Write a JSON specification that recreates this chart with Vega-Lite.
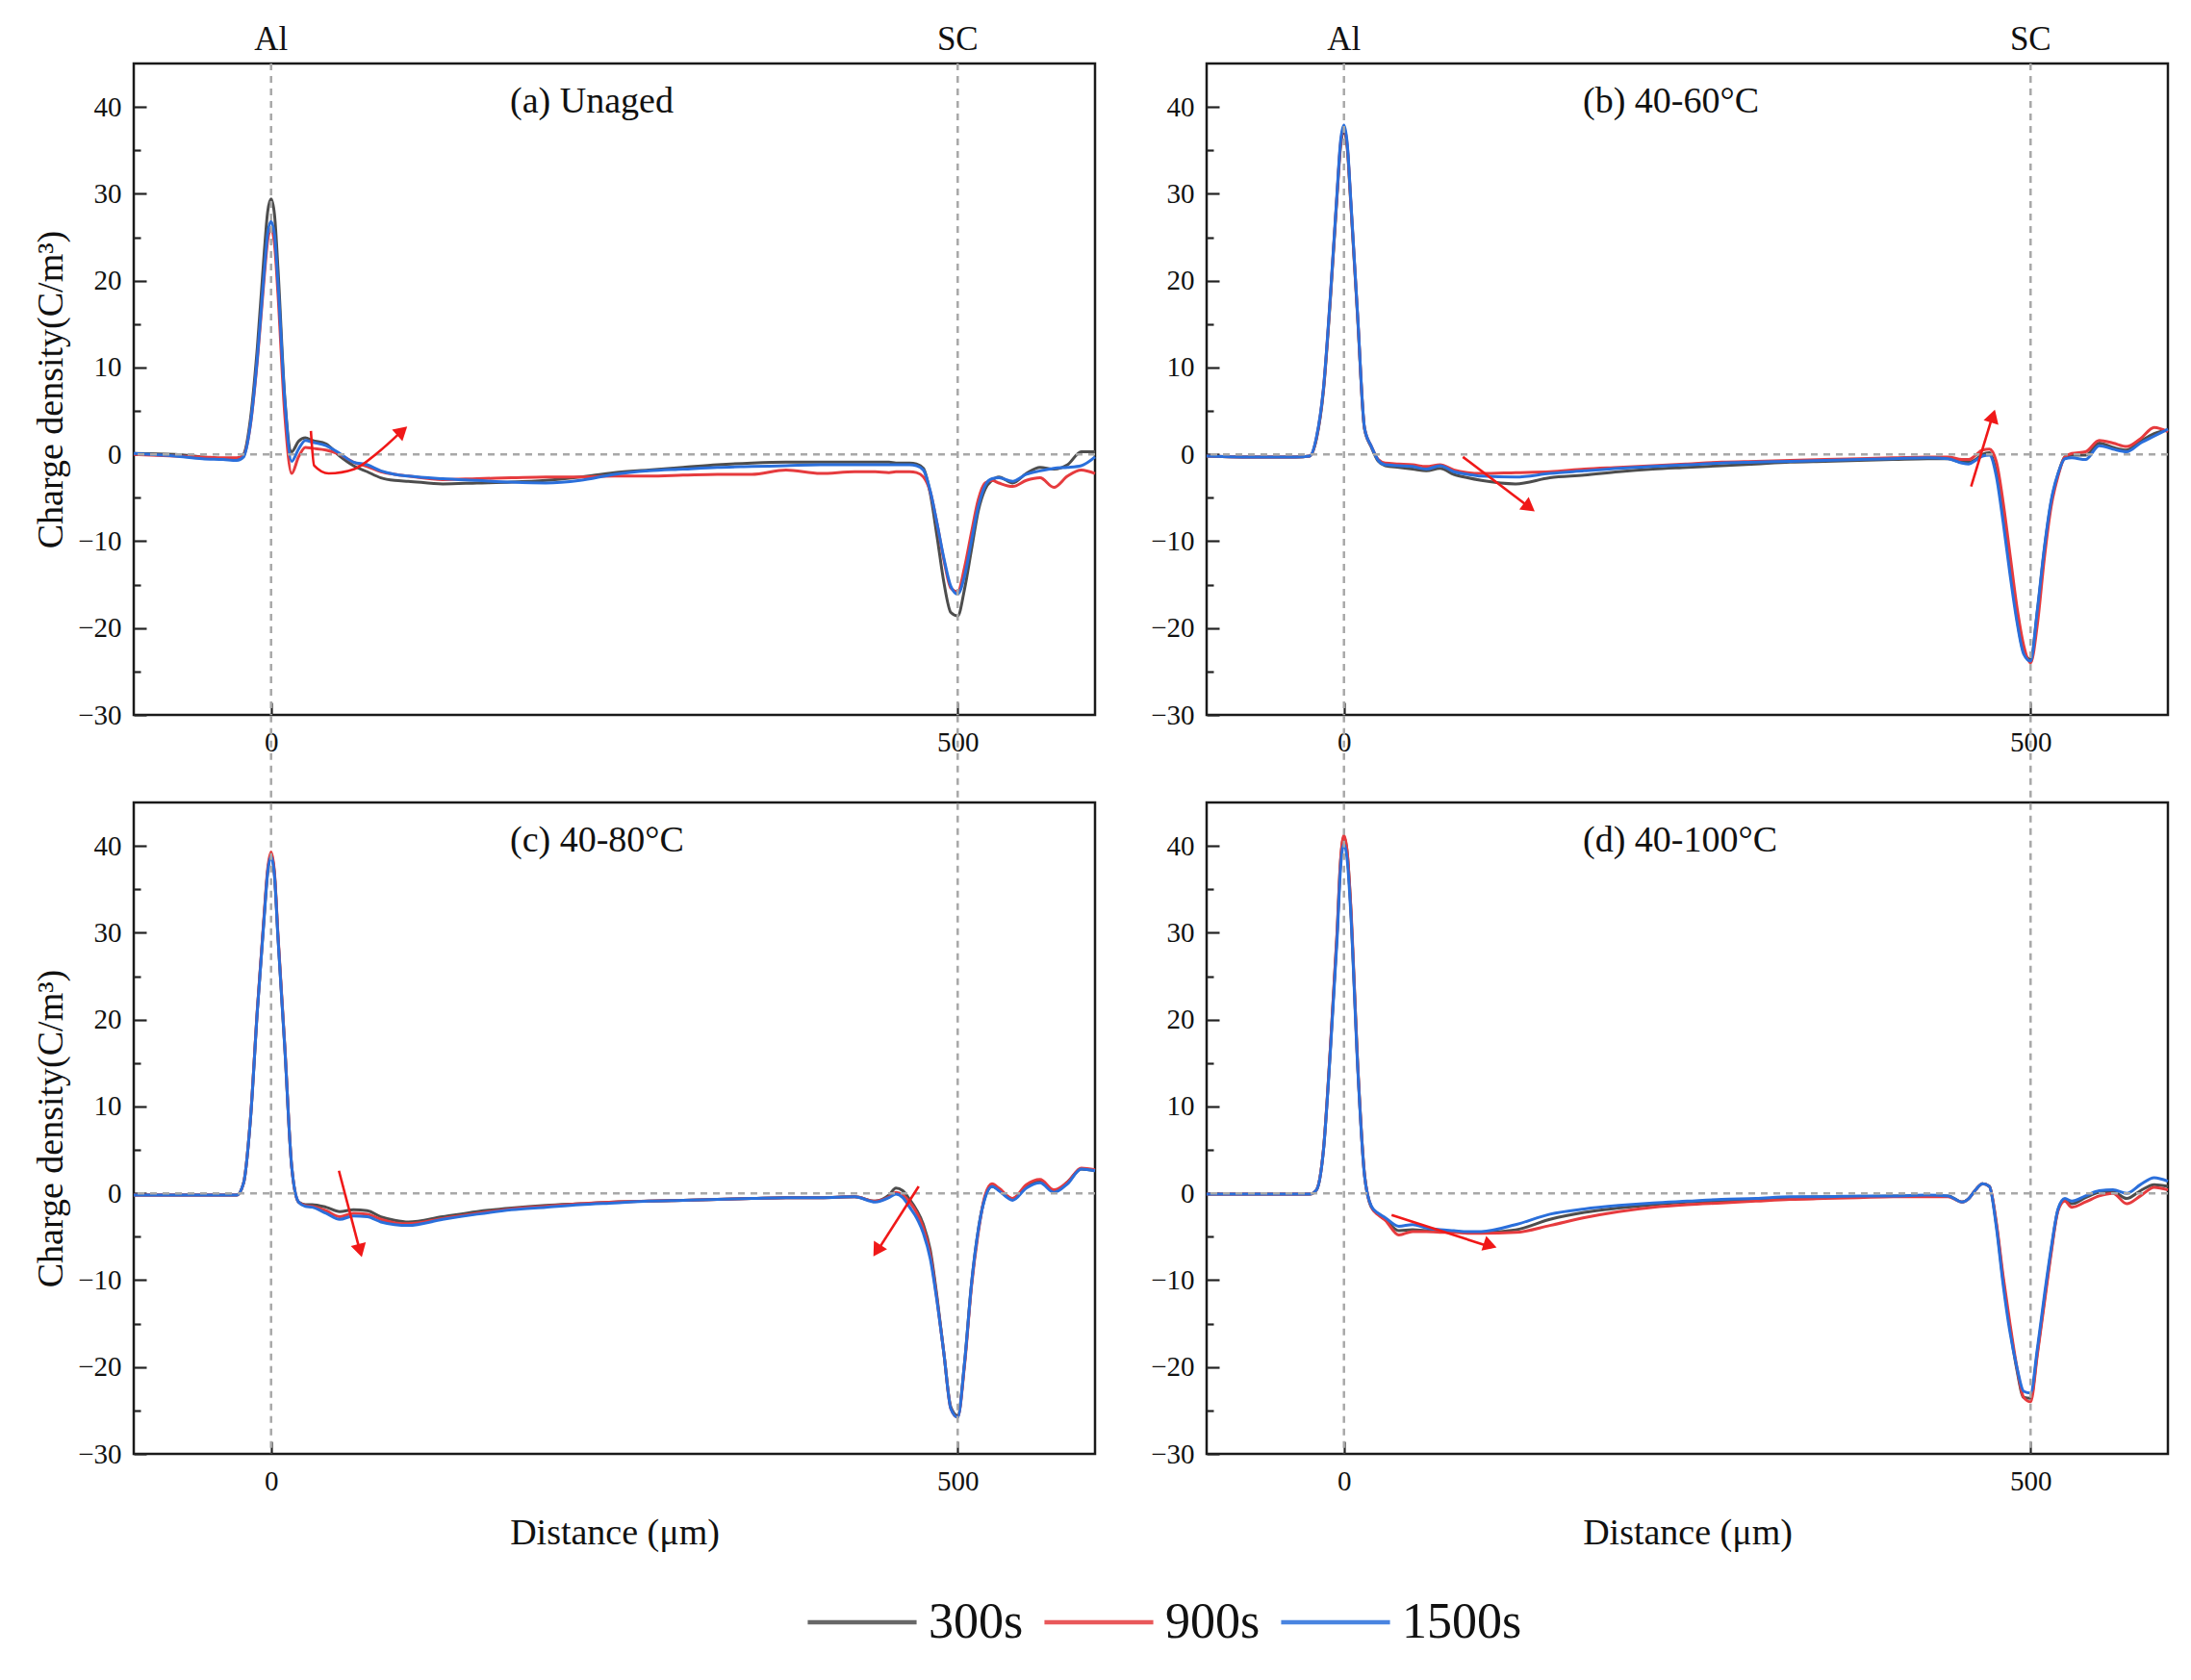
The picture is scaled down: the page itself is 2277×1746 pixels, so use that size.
{
  "$schema": "https://vega.github.io/schema/vega-lite/v6.json",
  "background": "white",
  "padding": {"left": 33, "top": 22, "right": 18, "bottom": 30},
  "bounds": "flush",
  "columns": 2,
  "spacing": {"row": 91, "column": 116},
  "datasets": {
    "curves": [
      {"p":"a","x":-100,"300s":0.1,"900s":0.0,"1500s":0.1},
      {"p":"a","x":-70,"300s":0.0,"900s":-0.2,"1500s":-0.2},
      {"p":"a","x":-50,"300s":-0.3,"900s":-0.3,"1500s":-0.5},
      {"p":"a","x":-35,"300s":-0.5,"900s":-0.4,"1500s":-0.6},
      {"p":"a","x":-25,"300s":-0.6,"900s":-0.4,"1500s":-0.7},
      {"p":"a","x":-20,"300s":0.0,"900s":-0.1,"1500s":-0.3},
      {"p":"a","x":-15,"300s":4.1,"900s":3.4,"1500s":3.5},
      {"p":"a","x":-10,"300s":12.3,"900s":10.8,"1500s":11.1},
      {"p":"a","x":-5,"300s":23.2,"900s":20.4,"1500s":21.0},
      {"p":"a","x":-2.5,"300s":27.9,"900s":24.6,"1500s":25.4},
      {"p":"a","x":0,"300s":29.4,"900s":26.0,"1500s":26.8},
      {"p":"a","x":2.5,"300s":27.6,"900s":24.2,"1500s":25.3},
      {"p":"a","x":5,"300s":21.5,"900s":18.5,"1500s":19.8},
      {"p":"a","x":10,"300s":6.5,"900s":4.5,"1500s":6.2},
      {"p":"a","x":15,"300s":0.3,"900s":-2.2,"1500s":-0.8},
      {"p":"a","x":20,"300s":1.5,"900s":-0.3,"1500s":0.6},
      {"p":"a","x":25,"300s":1.9,"900s":0.8,"1500s":1.6},
      {"p":"a","x":30,"300s":1.6,"900s":0.7,"1500s":1.4},
      {"p":"a","x":40,"300s":1.2,"900s":0.5,"1500s":1.0},
      {"p":"a","x":50,"300s":-0.2,"900s":0.0,"1500s":0.1},
      {"p":"a","x":60,"300s":-1.3,"900s":-0.9,"1500s":-0.9},
      {"p":"a","x":70,"300s":-2.0,"900s":-1.4,"1500s":-1.2},
      {"p":"a","x":80,"300s":-2.7,"900s":-2.0,"1500s":-1.9},
      {"p":"a","x":90,"300s":-3.0,"900s":-2.3,"1500s":-2.3},
      {"p":"a","x":100,"300s":-3.1,"900s":-2.5,"1500s":-2.5},
      {"p":"a","x":125,"300s":-3.4,"900s":-2.9,"1500s":-2.8},
      {"p":"a","x":150,"300s":-3.3,"900s":-2.8,"1500s":-3.0},
      {"p":"a","x":175,"300s":-3.2,"900s":-2.7,"1500s":-3.2},
      {"p":"a","x":200,"300s":-3.0,"900s":-2.6,"1500s":-3.3},
      {"p":"a","x":225,"300s":-2.6,"900s":-2.6,"1500s":-3.0},
      {"p":"a","x":250,"300s":-2.1,"900s":-2.5,"1500s":-2.3},
      {"p":"a","x":275,"300s":-1.8,"900s":-2.5,"1500s":-1.9},
      {"p":"a","x":300,"300s":-1.5,"900s":-2.4,"1500s":-1.7},
      {"p":"a","x":325,"300s":-1.2,"900s":-2.3,"1500s":-1.5},
      {"p":"a","x":350,"300s":-1.0,"900s":-2.3,"1500s":-1.4},
      {"p":"a","x":375,"300s":-0.9,"900s":-1.8,"1500s":-1.3},
      {"p":"a","x":400,"300s":-0.9,"900s":-2.2,"1500s":-1.2},
      {"p":"a","x":425,"300s":-0.9,"900s":-2.0,"1500s":-1.2},
      {"p":"a","x":440,"300s":-0.9,"900s":-2.0,"1500s":-1.2},
      {"p":"a","x":450,"300s":-0.9,"900s":-2.1,"1500s":-1.2},
      {"p":"a","x":455,"300s":-1.0,"900s":-2.0,"1500s":-1.2},
      {"p":"a","x":460,"300s":-1.0,"900s":-2.0,"1500s":-1.2},
      {"p":"a","x":465,"300s":-1.0,"900s":-2.0,"1500s":-1.2},
      {"p":"a","x":470,"300s":-1.1,"900s":-2.1,"1500s":-1.3},
      {"p":"a","x":475,"300s":-1.6,"900s":-2.6,"1500s":-1.8},
      {"p":"a","x":480,"300s":-4.5,"900s":-4.3,"1500s":-4.2},
      {"p":"a","x":485,"300s":-9.5,"900s":-8.0,"1500s":-8.0},
      {"p":"a","x":490,"300s":-14.8,"900s":-12.2,"1500s":-12.0},
      {"p":"a","x":495,"300s":-18.2,"900s":-15.4,"1500s":-15.2},
      {"p":"a","x":500,"300s":-18.6,"900s":-15.8,"1500s":-16.1},
      {"p":"a","x":505,"300s":-15.5,"900s":-13.0,"1500s":-14.0},
      {"p":"a","x":510,"300s":-11.0,"900s":-9.0,"1500s":-10.0},
      {"p":"a","x":515,"300s":-6.5,"900s":-5.2,"1500s":-6.0},
      {"p":"a","x":520,"300s":-4.0,"900s":-3.3,"1500s":-3.6},
      {"p":"a","x":525,"300s":-3.0,"900s":-3.0,"1500s":-2.8},
      {"p":"a","x":530,"300s":-2.6,"900s":-3.3,"1500s":-2.7},
      {"p":"a","x":540,"300s":-3.3,"900s":-3.7,"1500s":-3.1},
      {"p":"a","x":550,"300s":-2.2,"900s":-3.0,"1500s":-2.3},
      {"p":"a","x":560,"300s":-1.5,"900s":-2.7,"1500s":-1.9},
      {"p":"a","x":570,"300s":-1.7,"900s":-3.8,"1500s":-1.6},
      {"p":"a","x":580,"300s":-1.2,"900s":-2.5,"1500s":-1.5},
      {"p":"a","x":590,"300s":0.3,"900s":-1.8,"1500s":-1.3},
      {"p":"a","x":600,"300s":0.3,"900s":-2.2,"1500s":-0.3},

      {"p":"b","x":-100,"300s":-0.2,"900s":-0.2,"1500s":-0.2},
      {"p":"b","x":-70,"300s":-0.3,"900s":-0.3,"1500s":-0.3},
      {"p":"b","x":-50,"300s":-0.3,"900s":-0.3,"1500s":-0.3},
      {"p":"b","x":-35,"300s":-0.3,"900s":-0.3,"1500s":-0.3},
      {"p":"b","x":-25,"300s":-0.2,"900s":-0.2,"1500s":-0.2},
      {"p":"b","x":-20,"300s":1.8,"900s":1.9,"1500s":2.0},
      {"p":"b","x":-15,"300s":7.2,"900s":7.4,"1500s":7.5},
      {"p":"b","x":-10,"300s":17.6,"900s":17.9,"1500s":18.0},
      {"p":"b","x":-5,"300s":29.8,"900s":30.0,"1500s":30.2},
      {"p":"b","x":-2.5,"300s":35.4,"900s":35.7,"1500s":36.0},
      {"p":"b","x":0,"300s":37.3,"900s":37.6,"1500s":37.9},
      {"p":"b","x":2.5,"300s":35.1,"900s":35.4,"1500s":35.6},
      {"p":"b","x":5,"300s":28.8,"900s":29.0,"1500s":29.2},
      {"p":"b","x":10,"300s":15.6,"900s":15.8,"1500s":15.9},
      {"p":"b","x":15,"300s":2.9,"900s":3.0,"1500s":3.0},
      {"p":"b","x":20,"300s":0.8,"900s":0.9,"1500s":0.9},
      {"p":"b","x":25,"300s":-0.8,"900s":-0.6,"1500s":-0.7},
      {"p":"b","x":30,"300s":-1.3,"900s":-1.0,"1500s":-1.2},
      {"p":"b","x":40,"300s":-1.5,"900s":-1.1,"1500s":-1.3},
      {"p":"b","x":50,"300s":-1.7,"900s":-1.2,"1500s":-1.4},
      {"p":"b","x":60,"300s":-1.9,"900s":-1.4,"1500s":-1.7},
      {"p":"b","x":70,"300s":-1.6,"900s":-1.2,"1500s":-1.3},
      {"p":"b","x":80,"300s":-2.3,"900s":-1.8,"1500s":-2.0},
      {"p":"b","x":90,"300s":-2.7,"900s":-2.1,"1500s":-2.3},
      {"p":"b","x":100,"300s":-3.0,"900s":-2.2,"1500s":-2.5},
      {"p":"b","x":125,"300s":-3.4,"900s":-2.1,"1500s":-2.6},
      {"p":"b","x":150,"300s":-2.7,"900s":-2.0,"1500s":-2.2},
      {"p":"b","x":175,"300s":-2.4,"900s":-1.7,"1500s":-1.9},
      {"p":"b","x":200,"300s":-2.0,"900s":-1.5,"1500s":-1.6},
      {"p":"b","x":225,"300s":-1.7,"900s":-1.3,"1500s":-1.4},
      {"p":"b","x":250,"300s":-1.5,"900s":-1.1,"1500s":-1.2},
      {"p":"b","x":275,"300s":-1.3,"900s":-0.9,"1500s":-1.0},
      {"p":"b","x":300,"300s":-1.1,"900s":-0.8,"1500s":-0.9},
      {"p":"b","x":325,"300s":-0.9,"900s":-0.7,"1500s":-0.8},
      {"p":"b","x":350,"300s":-0.8,"900s":-0.6,"1500s":-0.7},
      {"p":"b","x":375,"300s":-0.7,"900s":-0.5,"1500s":-0.6},
      {"p":"b","x":400,"300s":-0.6,"900s":-0.4,"1500s":-0.5},
      {"p":"b","x":425,"300s":-0.5,"900s":-0.3,"1500s":-0.4},
      {"p":"b","x":440,"300s":-0.5,"900s":-0.3,"1500s":-0.5},
      {"p":"b","x":450,"300s":-0.9,"900s":-0.6,"1500s":-1.0},
      {"p":"b","x":455,"300s":-0.9,"900s":-0.6,"1500s":-1.1},
      {"p":"b","x":460,"300s":-0.6,"900s":-0.1,"1500s":-0.7},
      {"p":"b","x":465,"300s":0.0,"900s":0.5,"1500s":-0.2},
      {"p":"b","x":470,"300s":0.2,"900s":0.6,"1500s":-0.1},
      {"p":"b","x":475,"300s":-2.0,"900s":-0.8,"1500s":-2.5},
      {"p":"b","x":480,"300s":-7.0,"900s":-5.5,"1500s":-7.8},
      {"p":"b","x":485,"300s":-13.0,"900s":-11.5,"1500s":-13.8},
      {"p":"b","x":490,"300s":-18.8,"900s":-17.5,"1500s":-19.2},
      {"p":"b","x":495,"300s":-22.8,"900s":-22.0,"1500s":-23.0},
      {"p":"b","x":500,"300s":-23.6,"900s":-24.0,"1500s":-23.8},
      {"p":"b","x":505,"300s":-18.0,"900s":-19.5,"1500s":-17.8},
      {"p":"b","x":510,"300s":-11.0,"900s":-12.0,"1500s":-10.8},
      {"p":"b","x":515,"300s":-5.5,"900s":-6.0,"1500s":-5.3},
      {"p":"b","x":520,"300s":-2.3,"900s":-2.5,"1500s":-2.2},
      {"p":"b","x":525,"300s":-0.3,"900s":-0.3,"1500s":-0.5},
      {"p":"b","x":530,"300s":-0.1,"900s":0.1,"1500s":-0.4},
      {"p":"b","x":540,"300s":-0.1,"900s":0.3,"1500s":-0.6},
      {"p":"b","x":550,"300s":1.3,"900s":1.6,"1500s":1.0},
      {"p":"b","x":560,"300s":0.8,"900s":1.3,"1500s":0.6},
      {"p":"b","x":570,"300s":0.5,"900s":0.9,"1500s":0.3},
      {"p":"b","x":580,"300s":1.5,"900s":1.8,"1500s":1.3},
      {"p":"b","x":590,"300s":2.4,"900s":3.1,"1500s":2.1},
      {"p":"b","x":600,"300s":2.8,"900s":2.6,"1500s":2.9},

      {"p":"c","x":-100,"300s":-0.2,"900s":-0.2,"1500s":-0.2},
      {"p":"c","x":-70,"300s":-0.2,"900s":-0.2,"1500s":-0.2},
      {"p":"c","x":-50,"300s":-0.2,"900s":-0.2,"1500s":-0.2},
      {"p":"c","x":-35,"300s":-0.2,"900s":-0.2,"1500s":-0.2},
      {"p":"c","x":-25,"300s":-0.2,"900s":-0.2,"1500s":-0.2},
      {"p":"c","x":-20,"300s":1.2,"900s":1.2,"1500s":1.2},
      {"p":"c","x":-15,"300s":8.6,"900s":8.6,"1500s":8.5},
      {"p":"c","x":-10,"300s":21.1,"900s":21.2,"1500s":21.0},
      {"p":"c","x":-5,"300s":32.0,"900s":32.2,"1500s":31.8},
      {"p":"c","x":-2.5,"300s":37.0,"900s":37.3,"1500s":36.9},
      {"p":"c","x":0,"300s":39.0,"900s":39.3,"1500s":38.8},
      {"p":"c","x":2.5,"300s":36.7,"900s":36.9,"1500s":36.5},
      {"p":"c","x":5,"300s":29.6,"900s":29.9,"1500s":29.5},
      {"p":"c","x":10,"300s":16.8,"900s":16.9,"1500s":16.7},
      {"p":"c","x":15,"300s":3.1,"900s":3.1,"1500s":3.1},
      {"p":"c","x":20,"300s":-1.0,"900s":-1.0,"1500s":-1.0},
      {"p":"c","x":25,"300s":-1.3,"900s":-1.4,"1500s":-1.5},
      {"p":"c","x":30,"300s":-1.3,"900s":-1.5,"1500s":-1.6},
      {"p":"c","x":40,"300s":-1.6,"900s":-2.0,"1500s":-2.3},
      {"p":"c","x":50,"300s":-2.1,"900s":-2.7,"1500s":-3.0},
      {"p":"c","x":60,"300s":-1.9,"900s":-2.3,"1500s":-2.6},
      {"p":"c","x":70,"300s":-2.0,"900s":-2.4,"1500s":-2.7},
      {"p":"c","x":80,"300s":-2.7,"900s":-3.0,"1500s":-3.3},
      {"p":"c","x":90,"300s":-3.1,"900s":-3.4,"1500s":-3.6},
      {"p":"c","x":100,"300s":-3.3,"900s":-3.5,"1500s":-3.7},
      {"p":"c","x":125,"300s":-2.7,"900s":-2.9,"1500s":-3.0},
      {"p":"c","x":150,"300s":-2.1,"900s":-2.3,"1500s":-2.4},
      {"p":"c","x":175,"300s":-1.7,"900s":-1.8,"1500s":-1.9},
      {"p":"c","x":200,"300s":-1.4,"900s":-1.5,"1500s":-1.6},
      {"p":"c","x":225,"300s":-1.2,"900s":-1.2,"1500s":-1.3},
      {"p":"c","x":250,"300s":-1.0,"900s":-1.0,"1500s":-1.1},
      {"p":"c","x":275,"300s":-0.9,"900s":-0.9,"1500s":-0.9},
      {"p":"c","x":300,"300s":-0.8,"900s":-0.8,"1500s":-0.8},
      {"p":"c","x":325,"300s":-0.7,"900s":-0.7,"1500s":-0.7},
      {"p":"c","x":350,"300s":-0.6,"900s":-0.6,"1500s":-0.6},
      {"p":"c","x":375,"300s":-0.5,"900s":-0.5,"1500s":-0.5},
      {"p":"c","x":400,"300s":-0.5,"900s":-0.5,"1500s":-0.5},
      {"p":"c","x":425,"300s":-0.4,"900s":-0.4,"1500s":-0.4},
      {"p":"c","x":440,"300s":-0.9,"900s":-0.9,"1500s":-1.0},
      {"p":"c","x":450,"300s":-0.2,"900s":-0.4,"1500s":-0.5},
      {"p":"c","x":455,"300s":0.6,"900s":0.1,"1500s":-0.1},
      {"p":"c","x":460,"300s":0.3,"900s":-0.2,"1500s":-0.5},
      {"p":"c","x":465,"300s":-0.7,"900s":-1.0,"1500s":-1.6},
      {"p":"c","x":470,"300s":-1.9,"900s":-2.2,"1500s":-2.8},
      {"p":"c","x":475,"300s":-3.6,"900s":-4.0,"1500s":-4.6},
      {"p":"c","x":480,"300s":-6.5,"900s":-7.0,"1500s":-7.5},
      {"p":"c","x":485,"300s":-12.0,"900s":-12.3,"1500s":-12.5},
      {"p":"c","x":490,"300s":-18.5,"900s":-18.5,"1500s":-18.5},
      {"p":"c","x":495,"300s":-24.6,"900s":-24.8,"1500s":-24.8},
      {"p":"c","x":500,"300s":-25.6,"900s":-25.8,"1500s":-25.8},
      {"p":"c","x":505,"300s":-19.5,"900s":-19.8,"1500s":-19.5},
      {"p":"c","x":510,"300s":-10.5,"900s":-10.8,"1500s":-10.5},
      {"p":"c","x":515,"300s":-4.2,"900s":-4.5,"1500s":-4.2},
      {"p":"c","x":520,"300s":-0.4,"900s":-0.2,"1500s":-0.5},
      {"p":"c","x":525,"300s":0.8,"900s":1.1,"1500s":0.8},
      {"p":"c","x":530,"300s":0.4,"900s":0.6,"1500s":0.3},
      {"p":"c","x":540,"300s":-0.6,"900s":-0.6,"1500s":-0.8},
      {"p":"c","x":550,"300s":0.8,"900s":1.0,"1500s":0.6},
      {"p":"c","x":560,"300s":1.4,"900s":1.6,"1500s":1.2},
      {"p":"c","x":570,"300s":0.2,"900s":0.4,"1500s":0.1},
      {"p":"c","x":580,"300s":1.3,"900s":1.3,"1500s":1.1},
      {"p":"c","x":590,"300s":2.8,"900s":2.9,"1500s":2.8},
      {"p":"c","x":600,"300s":2.6,"900s":2.7,"1500s":2.6},

      {"p":"d","x":-100,"300s":-0.1,"900s":-0.1,"1500s":-0.1},
      {"p":"d","x":-70,"300s":-0.1,"900s":-0.1,"1500s":-0.1},
      {"p":"d","x":-50,"300s":-0.1,"900s":-0.1,"1500s":-0.1},
      {"p":"d","x":-35,"300s":-0.1,"900s":-0.1,"1500s":-0.1},
      {"p":"d","x":-25,"300s":-0.1,"900s":-0.1,"1500s":-0.1},
      {"p":"d","x":-20,"300s":0.4,"900s":0.4,"1500s":0.4},
      {"p":"d","x":-15,"300s":4.9,"900s":4.9,"1500s":4.8},
      {"p":"d","x":-10,"300s":16.4,"900s":16.5,"1500s":16.1},
      {"p":"d","x":-5,"300s":29.9,"900s":30.1,"1500s":29.3},
      {"p":"d","x":-2.5,"300s":38.1,"900s":38.3,"1500s":37.4},
      {"p":"d","x":0,"300s":41.0,"900s":41.2,"1500s":40.2},
      {"p":"d","x":2.5,"300s":39.0,"900s":39.1,"1500s":38.2},
      {"p":"d","x":5,"300s":32.8,"900s":33.0,"1500s":32.2},
      {"p":"d","x":10,"300s":14.8,"900s":14.8,"1500s":14.5},
      {"p":"d","x":15,"300s":2.1,"900s":2.1,"1500s":2.0},
      {"p":"d","x":20,"300s":-1.6,"900s":-1.6,"1500s":-1.5},
      {"p":"d","x":25,"300s":-2.4,"900s":-2.5,"1500s":-2.3},
      {"p":"d","x":30,"300s":-3.0,"900s":-3.1,"1500s":-2.8},
      {"p":"d","x":40,"300s":-4.3,"900s":-4.8,"1500s":-3.8},
      {"p":"d","x":50,"300s":-4.2,"900s":-4.4,"1500s":-3.6},
      {"p":"d","x":60,"300s":-4.3,"900s":-4.4,"1500s":-4.0},
      {"p":"d","x":70,"300s":-4.3,"900s":-4.5,"1500s":-4.2},
      {"p":"d","x":80,"300s":-4.4,"900s":-4.5,"1500s":-4.3},
      {"p":"d","x":90,"300s":-4.5,"900s":-4.6,"1500s":-4.4},
      {"p":"d","x":100,"300s":-4.5,"900s":-4.6,"1500s":-4.4},
      {"p":"d","x":125,"300s":-4.2,"900s":-4.5,"1500s":-3.6},
      {"p":"d","x":150,"300s":-3.0,"900s":-3.7,"1500s":-2.4},
      {"p":"d","x":175,"300s":-2.2,"900s":-2.8,"1500s":-1.8},
      {"p":"d","x":200,"300s":-1.7,"900s":-2.1,"1500s":-1.4},
      {"p":"d","x":225,"300s":-1.3,"900s":-1.6,"1500s":-1.1},
      {"p":"d","x":250,"300s":-1.0,"900s":-1.3,"1500s":-0.9},
      {"p":"d","x":275,"300s":-0.9,"900s":-1.1,"1500s":-0.7},
      {"p":"d","x":300,"300s":-0.7,"900s":-0.9,"1500s":-0.6},
      {"p":"d","x":325,"300s":-0.5,"900s":-0.7,"1500s":-0.4},
      {"p":"d","x":350,"300s":-0.4,"900s":-0.6,"1500s":-0.4},
      {"p":"d","x":375,"300s":-0.4,"900s":-0.5,"1500s":-0.3},
      {"p":"d","x":400,"300s":-0.3,"900s":-0.4,"1500s":-0.3},
      {"p":"d","x":425,"300s":-0.3,"900s":-0.4,"1500s":-0.2},
      {"p":"d","x":440,"300s":-0.3,"900s":-0.4,"1500s":-0.3},
      {"p":"d","x":450,"300s":-1.0,"900s":-1.0,"1500s":-1.0},
      {"p":"d","x":455,"300s":-0.6,"900s":-0.6,"1500s":-0.6},
      {"p":"d","x":460,"300s":0.4,"900s":0.4,"1500s":0.4},
      {"p":"d","x":465,"300s":1.1,"900s":1.1,"1500s":1.1},
      {"p":"d","x":470,"300s":0.8,"900s":0.8,"1500s":0.8},
      {"p":"d","x":475,"300s":-3.5,"900s":-3.3,"1500s":-3.8},
      {"p":"d","x":480,"300s":-10.0,"900s":-9.5,"1500s":-10.5},
      {"p":"d","x":485,"300s":-15.5,"900s":-15.0,"1500s":-16.0},
      {"p":"d","x":490,"300s":-20.3,"900s":-20.0,"1500s":-20.0},
      {"p":"d","x":495,"300s":-23.5,"900s":-23.5,"1500s":-22.8},
      {"p":"d","x":500,"300s":-23.6,"900s":-24.0,"1500s":-23.0},
      {"p":"d","x":505,"300s":-18.2,"900s":-18.5,"1500s":-17.8},
      {"p":"d","x":510,"300s":-12.3,"900s":-12.7,"1500s":-11.8},
      {"p":"d","x":515,"300s":-6.6,"900s":-6.9,"1500s":-6.3},
      {"p":"d","x":520,"300s":-1.9,"900s":-2.0,"1500s":-1.8},
      {"p":"d","x":525,"300s":-0.7,"900s":-0.9,"1500s":-0.6},
      {"p":"d","x":530,"300s":-1.2,"900s":-1.6,"1500s":-0.9},
      {"p":"d","x":540,"300s":-0.5,"900s":-1.0,"1500s":-0.3},
      {"p":"d","x":550,"300s":0.1,"900s":-0.3,"1500s":0.3},
      {"p":"d","x":560,"300s":0.2,"900s":0.0,"1500s":0.4},
      {"p":"d","x":570,"300s":-0.6,"900s":-1.2,"1500s":0.0},
      {"p":"d","x":580,"300s":0.3,"900s":-0.3,"1500s":1.0},
      {"p":"d","x":590,"300s":1.0,"900s":0.7,"1500s":1.8},
      {"p":"d","x":600,"300s":0.8,"900s":0.4,"1500s":1.4}
    ],
    "arrows": [
      {"p":"a","k":1,"i":0,"x":29.0,"y":2.7},
      {"p":"a","k":1,"i":1,"x":31.4,"y":-1.3},
      {"p":"a","k":1,"i":2,"x":42.0,"y":-2.2},
      {"p":"a","k":1,"i":3,"x":60.6,"y":-1.7},
      {"p":"a","k":1,"i":4,"x":77.0,"y":0.1},
      {"p":"a","k":1,"i":5,"x":96.0,"y":2.8},
      {"p":"b","k":1,"i":0,"x":86.6,"y":-0.3},
      {"p":"b","k":1,"i":1,"x":136.0,"y":-6.2},
      {"p":"b","k":2,"i":0,"x":456.7,"y":-3.7},
      {"p":"b","k":2,"i":1,"x":472.8,"y":4.7},
      {"p":"c","k":1,"i":0,"x":49.4,"y":2.6},
      {"p":"c","k":1,"i":1,"x":65.0,"y":-6.8},
      {"p":"c","k":2,"i":0,"x":471.6,"y":0.8},
      {"p":"c","k":2,"i":1,"x":440.8,"y":-6.8},
      {"p":"d","k":1,"i":0,"x":34.7,"y":-2.5},
      {"p":"d","k":1,"i":1,"x":107.5,"y":-6.2}
    ],
    "heads": [
      {"p":"a","k":1,"x":95.5,"y":2.7},
      {"p":"b","k":1,"x":135.0,"y":-6.1},
      {"p":"b","k":2,"x":472.6,"y":4.4},
      {"p":"c","k":1,"x":64.8,"y":-6.6},
      {"p":"c","k":2,"x":441.2,"y":-6.6},
      {"p":"d","k":1,"x":106.5,"y":-6.0}
    ],
    "guides": [
      {"x":0,"lab":"Al"},
      {"x":500,"lab":"SC"}
    ],
    "titles": [
      {"p":"a","t":"(a) Unaged"},
      {"p":"b","t":"(b) 40-60°C"},
      {"p":"c","t":"(c) 40-80°C"},
      {"p":"d","t":"(d) 40-100°C"}
    ]
  },
  "concat": [
    {
      "width": 999, "height": 677,
      "layer": [
        {"data": {"name": "curves"}, "transform": [{"filter": "datum.p == 'a'"}, {"fold": ["300s", "900s", "1500s"], "as": ["t", "v"]}],
         "mark": {"type": "line", "interpolate": "monotone", "strokeWidth": 3},
         "encoding": {
           "x": {"field": "x", "type": "quantitative", "scale": {"domain": [-100, 600], "nice": false, "zero": false},
                 "axis": {"title": null, "values": [0, 500], "tickSize": -13, "labelPadding": 27}},
           "y": {"field": "v", "type": "quantitative", "scale": {"domain": [-30, 45], "nice": false, "zero": false},
                 "axis": {"title": "Charge density(C/m³)", "titlePadding": 8, "values": [-30, -25, -20, -15, -10, -5, 0, 5, 10, 15, 20, 25, 30, 35, 40],
                          "labelExpr": "datum.value % 10 === 0 ? datum.label : ''",
                          "tickSize": {"condition": {"test": "datum.value % 10 === 0", "value": -13}, "value": -7}, "labelPadding": 26}},
           "color": {"field": "t", "type": "nominal", "scale": {"domain": ["300s", "900s", "1500s"], "range": ["#4d4d4d", "#e63b3e", "#2a6fdb"]},
                     "legend": {"orient": "none", "legendX": 698, "legendY": 1561, "direction": "horizontal", "title": null}}
         }},
        {"data": {"name": "guides"}, "mark": {"type": "rule", "color": "#a8a8a8", "strokeDash": [7, 6], "strokeWidth": 2.5},
         "encoding": {"x": {"field": "x", "type": "quantitative"},
                      "y": {"datum": 45, "type": "quantitative"},
                      "y2": {"datum": -30}}},
        {"data": {"name": "guides"}, "transform": [{"filter": "datum.x == 0"}], "mark": {"type": "rule", "color": "#a8a8a8", "strokeDash": [7, 6], "strokeWidth": 2.5},
         "encoding": {"y": {"datum": 0, "type": "quantitative"}}},
        {"data": {"name": "arrows"}, "transform": [{"filter": "datum.p == 'a'"}], "mark": {"type": "line", "color": "#f01818", "strokeWidth": 2.6, "interpolate": "monotone"},
         "encoding": {"x": {"field": "x", "type": "quantitative"}, "y": {"field": "y", "type": "quantitative"}, "detail": {"field": "k"}, "order": {"field": "i"}}},
        {"data": {"name": "heads"}, "transform": [{"filter": "datum.p == 'a'"}], "mark": {"type": "point", "shape": "triangle-up", "filled": true, "opacity": 1, "color": "#f01818", "size": 260, "angle": 48},
         "encoding": {"x": {"field": "x", "type": "quantitative"}, "y": {"field": "y", "type": "quantitative"}}},
        {"data": {"name": "titles"}, "transform": [{"filter": "datum.p == 'a'"}], "mark": {"type": "text", "align": "left", "baseline": "middle", "fontSize": 38, "color": "#111"},
         "encoding": {"x": {"datum": 174, "type": "quantitative"}, "y": {"datum": 40.6, "type": "quantitative"}, "text": {"field": "t"}}},
        {"data": {"name": "guides"}, "mark": {"type": "text", "align": "center", "baseline": "middle", "fontSize": 35, "color": "#111"},
         "encoding": {"x": {"field": "x", "type": "quantitative"}, "y": {"datum": 47.8, "type": "quantitative"}, "text": {"field": "lab"}}}
      ]
    },
    {
      "width": 999, "height": 677,
      "layer": [
        {"data": {"name": "curves"}, "transform": [{"filter": "datum.p == 'b'"}, {"fold": ["300s", "900s", "1500s"], "as": ["t", "v"]}],
         "mark": {"type": "line", "interpolate": "monotone", "strokeWidth": 3},
         "encoding": {
           "x": {"field": "x", "type": "quantitative", "scale": {"domain": [-100, 600], "nice": false, "zero": false},
                 "axis": {"title": null, "values": [0, 500], "tickSize": -13, "labelPadding": 27}},
           "y": {"field": "v", "type": "quantitative", "scale": {"domain": [-30, 45], "nice": false, "zero": false},
                 "axis": {"title": null, "values": [-30, -25, -20, -15, -10, -5, 0, 5, 10, 15, 20, 25, 30, 35, 40],
                          "labelExpr": "datum.value % 10 === 0 ? datum.label : ''",
                          "tickSize": {"condition": {"test": "datum.value % 10 === 0", "value": -13}, "value": -7}, "labelPadding": 26}},
           "color": {"field": "t", "type": "nominal", "scale": {"domain": ["300s", "900s", "1500s"], "range": ["#4d4d4d", "#e63b3e", "#2a6fdb"]}}
         }},
        {"data": {"name": "guides"}, "mark": {"type": "rule", "color": "#a8a8a8", "strokeDash": [7, 6], "strokeWidth": 2.5},
         "encoding": {"x": {"field": "x", "type": "quantitative"},
                      "y": {"datum": 45, "type": "quantitative"},
                      "y2": {"datum": -30}}},
        {"data": {"name": "guides"}, "transform": [{"filter": "datum.x == 0"}], "mark": {"type": "rule", "color": "#a8a8a8", "strokeDash": [7, 6], "strokeWidth": 2.5},
         "encoding": {"y": {"datum": 0, "type": "quantitative"}}},
        {"data": {"name": "arrows"}, "transform": [{"filter": "datum.p == 'b'"}], "mark": {"type": "line", "color": "#f01818", "strokeWidth": 2.6},
         "encoding": {"x": {"field": "x", "type": "quantitative"}, "y": {"field": "y", "type": "quantitative"}, "detail": {"field": "k"}, "order": {"field": "i"}}},
        {"data": {"name": "heads"}, "transform": [{"filter": "datum.p == 'b' && datum.k == 1"}], "mark": {"type": "point", "shape": "triangle-up", "filled": true, "opacity": 1, "color": "#f01818", "size": 260, "angle": 127},
         "encoding": {"x": {"field": "x", "type": "quantitative"}, "y": {"field": "y", "type": "quantitative"}}},
        {"data": {"name": "heads"}, "transform": [{"filter": "datum.p == 'b' && datum.k == 2"}], "mark": {"type": "point", "shape": "triangle-up", "filled": true, "opacity": 1, "color": "#f01818", "size": 260, "angle": 17},
         "encoding": {"x": {"field": "x", "type": "quantitative"}, "y": {"field": "y", "type": "quantitative"}}},
        {"data": {"name": "titles"}, "transform": [{"filter": "datum.p == 'b'"}], "mark": {"type": "text", "align": "left", "baseline": "middle", "fontSize": 38, "color": "#111"},
         "encoding": {"x": {"datum": 174, "type": "quantitative"}, "y": {"datum": 40.6, "type": "quantitative"}, "text": {"field": "t"}}},
        {"data": {"name": "guides"}, "mark": {"type": "text", "align": "center", "baseline": "middle", "fontSize": 35, "color": "#111"},
         "encoding": {"x": {"field": "x", "type": "quantitative"}, "y": {"datum": 47.8, "type": "quantitative"}, "text": {"field": "lab"}}}
      ]
    },
    {
      "width": 999, "height": 677,
      "layer": [
        {"data": {"name": "curves"}, "transform": [{"filter": "datum.p == 'c'"}, {"fold": ["300s", "900s", "1500s"], "as": ["t", "v"]}],
         "mark": {"type": "line", "interpolate": "monotone", "strokeWidth": 3},
         "encoding": {
           "x": {"field": "x", "type": "quantitative", "scale": {"domain": [-100, 600], "nice": false, "zero": false},
                 "axis": {"title": "Distance (μm)", "titlePadding": 20, "values": [0, 500], "tickSize": -13, "labelPadding": 27}},
           "y": {"field": "v", "type": "quantitative", "scale": {"domain": [-30, 45], "nice": false, "zero": false},
                 "axis": {"title": "Charge density(C/m³)", "titlePadding": 8, "values": [-30, -25, -20, -15, -10, -5, 0, 5, 10, 15, 20, 25, 30, 35, 40],
                          "labelExpr": "datum.value % 10 === 0 ? datum.label : ''",
                          "tickSize": {"condition": {"test": "datum.value % 10 === 0", "value": -13}, "value": -7}, "labelPadding": 26}},
           "color": {"field": "t", "type": "nominal", "scale": {"domain": ["300s", "900s", "1500s"], "range": ["#4d4d4d", "#e63b3e", "#2a6fdb"]}}
         }},
        {"data": {"name": "guides"}, "mark": {"type": "rule", "color": "#a8a8a8", "strokeDash": [7, 6], "strokeWidth": 2.5},
         "encoding": {"x": {"field": "x", "type": "quantitative"},
                      "y": {"datum": 55, "type": "quantitative"},
                      "y2": {"datum": -30}}},
        {"data": {"name": "guides"}, "transform": [{"filter": "datum.x == 0"}], "mark": {"type": "rule", "color": "#a8a8a8", "strokeDash": [7, 6], "strokeWidth": 2.5},
         "encoding": {"y": {"datum": 0, "type": "quantitative"}}},
        {"data": {"name": "arrows"}, "transform": [{"filter": "datum.p == 'c'"}], "mark": {"type": "line", "color": "#f01818", "strokeWidth": 2.6},
         "encoding": {"x": {"field": "x", "type": "quantitative"}, "y": {"field": "y", "type": "quantitative"}, "detail": {"field": "k"}, "order": {"field": "i"}}},
        {"data": {"name": "heads"}, "transform": [{"filter": "datum.p == 'c' && datum.k == 1"}], "mark": {"type": "point", "shape": "triangle-up", "filled": true, "opacity": 1, "color": "#f01818", "size": 260, "angle": 165},
         "encoding": {"x": {"field": "x", "type": "quantitative"}, "y": {"field": "y", "type": "quantitative"}}},
        {"data": {"name": "heads"}, "transform": [{"filter": "datum.p == 'c' && datum.k == 2"}], "mark": {"type": "point", "shape": "triangle-up", "filled": true, "opacity": 1, "color": "#f01818", "size": 260, "angle": 212},
         "encoding": {"x": {"field": "x", "type": "quantitative"}, "y": {"field": "y", "type": "quantitative"}}},
        {"data": {"name": "titles"}, "transform": [{"filter": "datum.p == 'c'"}], "mark": {"type": "text", "align": "left", "baseline": "middle", "fontSize": 38, "color": "#111"},
         "encoding": {"x": {"datum": 174, "type": "quantitative"}, "y": {"datum": 40.6, "type": "quantitative"}, "text": {"field": "t"}}}
      ]
    },
    {
      "width": 999, "height": 677,
      "layer": [
        {"data": {"name": "curves"}, "transform": [{"filter": "datum.p == 'd'"}, {"fold": ["300s", "900s", "1500s"], "as": ["t", "v"]}],
         "mark": {"type": "line", "interpolate": "monotone", "strokeWidth": 3},
         "encoding": {
           "x": {"field": "x", "type": "quantitative", "scale": {"domain": [-100, 600], "nice": false, "zero": false},
                 "axis": {"title": "Distance (μm)", "titlePadding": 20, "values": [0, 500], "tickSize": -13, "labelPadding": 27}},
           "y": {"field": "v", "type": "quantitative", "scale": {"domain": [-30, 45], "nice": false, "zero": false},
                 "axis": {"title": null, "values": [-30, -25, -20, -15, -10, -5, 0, 5, 10, 15, 20, 25, 30, 35, 40],
                          "labelExpr": "datum.value % 10 === 0 ? datum.label : ''",
                          "tickSize": {"condition": {"test": "datum.value % 10 === 0", "value": -13}, "value": -7}, "labelPadding": 26}},
           "color": {"field": "t", "type": "nominal", "scale": {"domain": ["300s", "900s", "1500s"], "range": ["#4d4d4d", "#e63b3e", "#2a6fdb"]}}
         }},
        {"data": {"name": "guides"}, "mark": {"type": "rule", "color": "#a8a8a8", "strokeDash": [7, 6], "strokeWidth": 2.5},
         "encoding": {"x": {"field": "x", "type": "quantitative"},
                      "y": {"datum": 55, "type": "quantitative"},
                      "y2": {"datum": -30}}},
        {"data": {"name": "guides"}, "transform": [{"filter": "datum.x == 0"}], "mark": {"type": "rule", "color": "#a8a8a8", "strokeDash": [7, 6], "strokeWidth": 2.5},
         "encoding": {"y": {"datum": 0, "type": "quantitative"}}},
        {"data": {"name": "arrows"}, "transform": [{"filter": "datum.p == 'd'"}], "mark": {"type": "line", "color": "#f01818", "strokeWidth": 2.6},
         "encoding": {"x": {"field": "x", "type": "quantitative"}, "y": {"field": "y", "type": "quantitative"}, "detail": {"field": "k"}, "order": {"field": "i"}}},
        {"data": {"name": "heads"}, "transform": [{"filter": "datum.p == 'd'"}], "mark": {"type": "point", "shape": "triangle-up", "filled": true, "opacity": 1, "color": "#f01818", "size": 260, "angle": 108},
         "encoding": {"x": {"field": "x", "type": "quantitative"}, "y": {"field": "y", "type": "quantitative"}}},
        {"data": {"name": "titles"}, "transform": [{"filter": "datum.p == 'd'"}], "mark": {"type": "text", "align": "left", "baseline": "middle", "fontSize": 38, "color": "#111"},
         "encoding": {"x": {"datum": 174, "type": "quantitative"}, "y": {"datum": 40.6, "type": "quantitative"}, "text": {"field": "t"}}}
      ]
    }
  ],
  "config": {
    "font": "Liberation Serif",
    "view": {"stroke": "#1a1a1a", "strokeWidth": 2.5},
    "axis": {"labelFontSize": 29, "labelColor": "#111", "titleFontSize": 38, "titleFontWeight": "normal", "titleColor": "#111",
             "grid": false, "domain": false, "tickColor": "#222", "tickWidth": 2.2, "labelFont": "Liberation Serif", "titleFont": "Liberation Serif"},
    "legend": {"labelFontSize": 52, "labelFont": "Liberation Serif", "labelColor": "#111", "symbolType": "stroke", "symbolSize": 12800,
               "symbolStrokeWidth": 4.5, "symbolOpacity": 0.85, "labelOffset": 10, "columnPadding": 12, "labelLimit": 300}
  }
}
